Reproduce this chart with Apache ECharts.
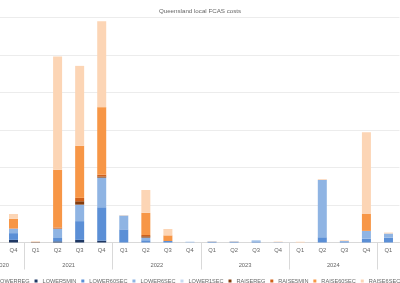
<!DOCTYPE html>
<html>
<head>
<meta charset="utf-8">
<script src="https://cdn.jsdelivr.net/npm/echarts@6/dist/echarts.min.js"></script>
<style>
html,body{margin:0;padding:0;background:#fff;}
#chart{width:400px;height:283px;}
</style>
</head>
<body>
<div id="chart"></div>
<script>
// Categories (first quarter of 2020 group lies off-canvas to the left)
const quarters = ['Q3','Q4','Q1','Q2','Q3','Q4','Q1','Q2','Q3','Q4','Q1','Q2','Q3','Q4','Q1','Q2','Q3','Q4','Q1'];
const years = ['2020','2021','2022','2023','2024'];
const yearStarts = [0, 2, 6, 10, 14, 18]; // category index where each year group begins

const seriesNames = ['LOWERREG','LOWER5MIN','LOWER60SEC','LOWER6SEC','LOWER1SEC','RAISEREG','RAISE5MIN','RAISE60SEC','RAISE6SEC'];

const LOWERREG   = [null,0,0,0,0,0,0,0,0,0,0,0,0,0,0,0,0,0,0];
const LOWER5MIN  = [null,0.7,0,0.3,0.7,0.5,0,0,0,0,0,0,0,0,0,0,0,0,0];
const LOWER60SEC = [null,1.8,0,0.9,5.0,8.9,3.5,0.6,0.4,0,0.15,0.15,0.25,0,0,1.4,0.3,1.0,1.3];
const LOWER6SEC  = [null,1.1,0.05,2.5,4.4,7.9,3.7,0.6,0,0.1,0.15,0.15,0.3,0.1,0,15.3,0.1,2.1,1.1];
const LOWER1SEC  = [null,0.1,0,0,0,0,0,0.1,0,0.15,0,0,0,0,0,0,0,0,0];
const RAISEREG   = [null,0,0.1,0,0.9,0.3,0,0.35,0,0,0,0,0,0,0,0,0,0,0];
const RAISE5MIN  = [null,0.1,0,0.3,0.9,0.5,0,0.35,0,0,0,0,0,0,0,0,0,0,0];
const RAISE60SEC = [null,2.5,0,15.4,13.9,18.0,0,5.9,1.5,0,0,0,0,0,0,0,0,4.5,0];
const RAISE6SEC  = [null,1.3,0.15,30.2,21.3,22.9,0.1,6.1,1.7,0,0.1,0.1,0,0.15,0.2,0.2,0.2,21.8,0.25];

const seriesData = [LOWERREG,LOWER5MIN,LOWER60SEC,LOWER6SEC,LOWER1SEC,RAISEREG,RAISE5MIN,RAISE60SEC,RAISE6SEC];
const colors = ['#14254a','#1f3864','#5b8fd6','#8fb4e3','#c6d9f1','#843c0c','#d0601a','#f79646','#fcd5b5'];

const FONT = 'Liberation Sans';
const TXT = '#666666';

const yearLabelPos = years.map((y,i) => (yearStarts[i] + yearStarts[i+1]) / 2);

const chart = echarts.init(document.getElementById('chart'), null, {renderer:'canvas'});
chart.setOption({
  animation: false,
  color: colors,
  title: {
    text: 'Queensland local FCAS costs',
    left: 'center', top: 3,
    textStyle: {fontFamily: FONT, fontSize: 6.2, fontWeight: 'normal', color: TXT}
  },
  legend: {
    data: seriesNames,
    left: -16, top: 273, width: 700,
    icon: 'rect', itemWidth: 3, itemHeight: 3, itemGap: 4.9,
    textStyle: {fontFamily: FONT, fontSize: 5.6, color: TXT}
  },
  grid: {left: -19.6, right: 0.5, top: 17.5, bottom: 40.5, containLabel: false, outerBoundsMode: 'none'},
  xAxis: [{
    type: 'category',
    data: quarters,
    position: 'bottom',
    axisLine: {show: true, lineStyle: {color: '#d9d9d9', width: 1}},
    axisTick: {show: false},
    axisLabel: {fontFamily: FONT, fontSize: 5.8, color: TXT, margin: 5, interval: 0}
  }, {
    type: 'value',
    min: 0, max: quarters.length,
    position: 'bottom',
    axisLine: {show: false},
    splitLine: {show: false},
    axisTick: {show: true, length: 27, customValues: yearStarts.slice(1), lineStyle: {color: '#d9d9d9'}},
    axisLabel: {
      fontFamily: FONT, fontSize: 5.8, color: TXT, margin: 20,
      customValues: yearLabelPos,
      formatter: function (v) { const i = yearLabelPos.indexOf(v); return i >= 0 ? years[i] : ''; }
    }
  }],
  yAxis: {
    type: 'value', min: 0, max: 60, interval: 10,
    axisLabel: {show: false}, axisLine: {show: false}, axisTick: {show: false},
    splitLine: {lineStyle: {color: '#ececec', width: 1}}
  },
  series: seriesNames.map((n, i) => ({
    name: n, type: 'bar', stack: 'total', barWidth: 9,
    xAxisIndex: 0, yAxisIndex: 0,
    data: seriesData[i]
  }))
});
</script>
</body>
</html>
